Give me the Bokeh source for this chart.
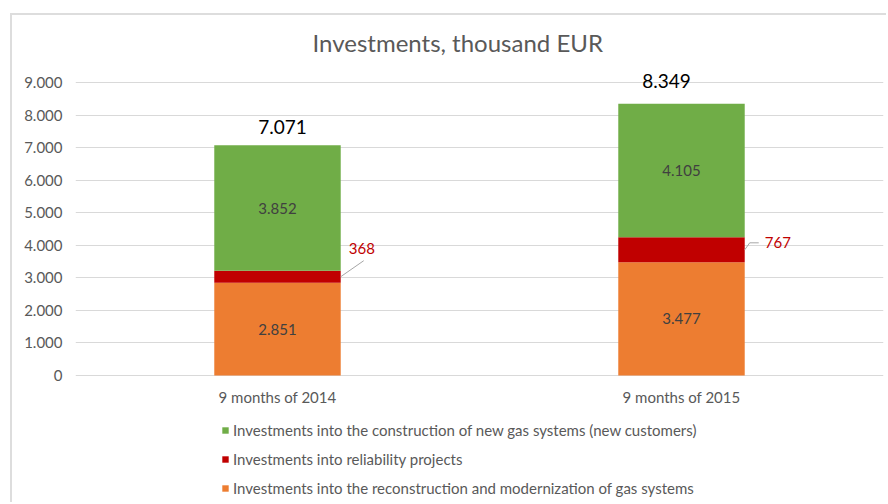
import numpy as np
from bokeh.plotting import figure
from bokeh.models import (ColumnDataSource, Range1d, FixedTicker, Legend, LegendItem)
from bokeh.core.properties import value
from bokeh.embed import file_html
from bokeh.resources import INLINE

# ---------------- data ----------------
categories = ["9 months of 2014", "9 months of 2015"]
reconstruction = [2851, 3477]
reliability = [368, 767]
new_systems = [3852, 4105]
totals = [7071, 8349]
series_names = [
    "Investments into the reconstruction and modernization of gas systems",
    "Investments into reliability projects",
    "Investments into the construction of new gas systems (new customers)",
]
y_ticks = [0, 1000, 2000, 3000, 4000, 5000, 6000, 7000, 8000, 9000]
y_tick_labels = ["0", "1.000", "2.000", "3.000", "4.000", "5.000", "6.000", "7.000", "8.000", "9.000"]
title_text = "Investments, thousand EUR"

# ---------------- styles ----------------
FONT = "Lato"
COLORS = ["#ED7D31", "#C00000", "#70AD47"]
GRAY = "#595959"
OX, OY, BW = 10, 13, 2             # chart-area border position / width
CX, CY = OX + BW, OY + BW          # content origin on page
W, H = 876, 489
BL, BR, BT, BB = 75 - CX, 5, 56 - CY, 0
FW, FH = W - BL - BR, H - BT - BB
ZERO_Y = 375 - CY                   # zero line, px from figure top
PX_PER_UNIT = 293 / 9000
YTOP = (ZERO_Y - BT) / PX_PER_UNIT
YBOT = -(H - ZERO_Y) / PX_PER_UNIT
BAR_W = 0.313


def fmt(v):
    return f"{v:,}".replace(",", ".")


xs = [i + 0.5 for i in range(len(categories))]
src = ColumnDataSource(dict(x=xs, rec=reconstruction, rel=reliability, new=new_systems))

p = figure(width=W, height=H, output_backend="svg", toolbar_location=None,
           x_range=Range1d(0, len(categories)), y_range=Range1d(YBOT, YTOP),
           x_axis_location=None,
           min_border_left=BL, min_border_right=BR, min_border_top=BT, min_border_bottom=BB,
           outline_line_color=None, background_fill_color="white", border_fill_color="white",
           styles={"margin-left": f"{OX}px", "margin-top": f"{OY}px",
                   "border-left": f"{BW}px solid #DDDDDD", "border-top": f"{BW}px solid #DDDDDD"})

p.title.text = title_text
p.title.align = "left"
p.title.offset = 312 - 75
p.title.text_font = FONT
p.title.text_font_size = "24px"
p.title.text_font_style = "normal"
p.title.text_color = GRAY
p.title.standoff = 0

renderers = p.vbar_stack(["rec", "rel", "new"], x="x", width=BAR_W, source=src,
                         color=COLORS, line_color=None)

# y axis
p.yaxis.ticker = FixedTicker(ticks=y_ticks)
p.yaxis.major_label_overrides = {t: l for t, l in zip(y_ticks, y_tick_labels)}
ax = p.yaxis[0]
ax.axis_line_color = None
ax.major_tick_line_color = None
ax.minor_tick_line_color = None
ax.major_tick_out = 0
ax.major_tick_in = 0
ax.major_label_text_font = FONT
ax.major_label_text_font_size = "15px"
ax.major_label_text_color = GRAY
ax.major_label_standoff = 13
p.xgrid.grid_line_color = None
p.ygrid.ticker = FixedTicker(ticks=y_ticks)
p.ygrid.grid_line_color = "#D9D9D9"
p.ygrid.grid_line_width = 1

# category labels
p.text(x=xs, y=[0] * len(xs), text=categories, y_offset=21,
       text_align="center", text_baseline="middle", text_font=value(FONT),
       text_font_size="15px", text_color=GRAY)

# inner labels (orange / green)
rec_mid = [r / 2 for r in reconstruction]
new_mid = [r + l + n / 2 for r, l, n in zip(reconstruction, reliability, new_systems)]
p.text(x=xs + xs, y=rec_mid + new_mid,
       text=[fmt(v) for v in reconstruction + new_systems],
       text_align="center", text_baseline="middle", text_font=value(FONT),
       text_font_size="15px", text_color="#404040")

# totals
tot_dx = [5, -15]      # px
tot_dy = [-18, -23]    # px (negative = up)
p.text(x=xs, y=totals, text=[fmt(v) for v in totals], x_offset=tot_dx, y_offset=tot_dy,
       text_align="center", text_baseline="middle", text_font=value(FONT),
       text_font_size="19px", text_color="#000000")

# red labels with leader lines
rel_mid = [r + l / 2 for r, l in zip(reconstruction, reliability)]
bar_right = [x + BAR_W / 2 for x in xs]
lab_dx = [8, 20]     # px
lab_dy = [-28, -7]   # px (negative = up)
p.text(x=bar_right, y=rel_mid, text=[fmt(v) for v in reliability],
       x_offset=lab_dx, y_offset=lab_dy, text_align="left", text_baseline="middle",
       text_font=value(FONT), text_font_size="15px", text_color="#C00000")

px_x = len(categories) / FW
px_y = 1 / PX_PER_UNIT
leader_pts = [[(0, 0), (23, 16)], [(0, 0), (5, 7), (14, 7)]]  # px offsets (dx, up)
lx, ly = [], []
for bx, by, pts in zip(bar_right, rel_mid, leader_pts):
    lx.append([bx + dx * px_x for dx, _ in pts])
    ly.append([by + dy * px_y for _, dy in pts])
p.multi_line(xs=lx, ys=ly, line_color="#A6A6A6", line_width=1)

# legend
items = [LegendItem(label=series_names[i], renderers=[renderers[i]]) for i in (2, 1, 0)]
legend = Legend(items=items, location=(221 - 75, (OY + BW + H) - 497), orientation="vertical",
                glyph_width=8, glyph_height=8, label_standoff=4, label_height=18,
                spacing=11, padding=0, margin=0,
                label_text_font=FONT, label_text_font_size="15px", label_text_color=GRAY,
                border_line_alpha=0, background_fill_alpha=0)
p.add_layout(legend, "center")

open("out.html", "w").write(file_html(p, INLINE))
